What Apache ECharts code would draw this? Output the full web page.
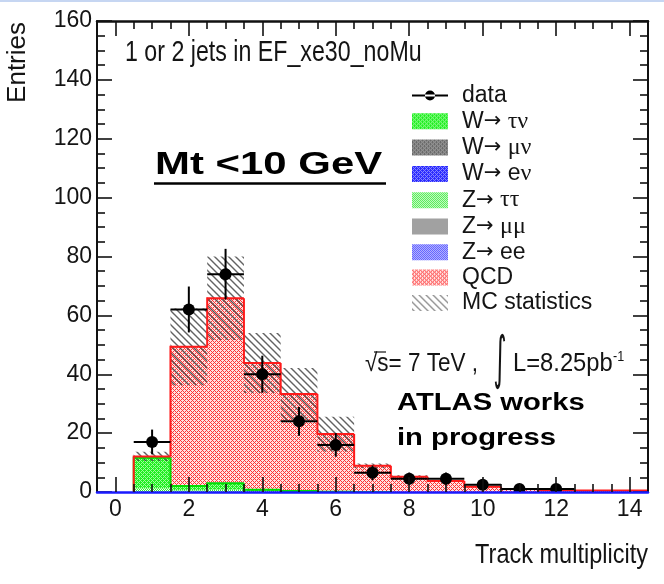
<!DOCTYPE html>
<html><head><meta charset="utf-8">
<script src="https://cdn.jsdelivr.net/npm/echarts@6/dist/echarts.min.js"></script>
<style>html,body{margin:0;padding:0;background:#fff}#c{width:664px;height:584px}</style>
</head><body><div id="c"></div>
<script>
// ---------- data (bin centres = track multiplicity) ----------
const bins     = [1, 2, 3, 4, 5, 6, 7, 8, 9, 10, 11, 12, 13, 14];
const zTauTau  = [1.3, 0.6, 0.8, 0.3, 0.1, 0, 0, 0, 0, 0, 0, 0, 0, 0];
const wTauNu   = [10.3, 1.4, 2.2, 0.5, 0.2, 0.1, 0, 0, 0, 0, 0, 0, 0, 0];
const wMuNu    = [0, 0.1, 0.1, 0, 0, 0, 0, 0, 0, 0, 0, 0, 0, 0];
const wENu     = [0, 0.1, 0.1, 0, 0, 0, 0, 0, 0, 0, 0, 0, 0, 0];
const zMuMu    = [0, 0, 0, 0, 0, 0, 0, 0, 0, 0, 0, 0, 0, 0];
const zEE      = [0, 0, 0, 0, 0, 0, 0, 0, 0, 0, 0, 0, 0, 0];
const qcd      = [0.5, 47.1, 62.6, 43.0, 33.0, 19.6, 8.9, 5.2, 3.7, 1.8, 1.0, 0.6, 0.5, 0.5];
const mcStatErr= [1.6, 13.0, 14.2, 10.2, 8.8, 5.9, 0.8, 0.5, 0.3, 0.2, 0.1, 0.1, 0.1, 0.1];
const dataX    = [1, 2, 3, 4, 5, 6, 7, 8, 9, 10, 11, 12];
const dataY    = [17, 62, 74, 40, 24, 16, 6.5, 4.5, 4.5, 2.5, 1, 1];
const dataErr  = [4.2, 7.8, 8.6, 6.3, 4.9, 4.0, 2.5, 2.1, 2.1, 1.6, 1.0, 1.0];
const xMajorTicks = [0, 2, 4, 6, 8, 10, 12, 14];
const xMinorTicks = [0.5, 1, 1.5, 2.5, 3, 3.5, 4.5, 5, 5.5, 6.5, 7, 7.5, 8.5, 9, 9.5, 10.5, 11, 11.5, 12.5, 13, 13.5];
const legendNames = ['data', 'W→ τν', 'W→ μν', 'W→ eν', 'Z→ ττ', 'Z→ μμ', 'Z→ ee', 'QCD', 'MC statistics'];

// ---------- fill patterns ----------
function pixPattern(size, bg, fg, test) {
  const c = document.createElement('canvas'); c.width = size; c.height = size;
  const g = c.getContext('2d');
  g.fillStyle = bg; g.fillRect(0, 0, size, size);
  g.fillStyle = fg;
  for (let y = 0; y < size; y++) for (let x = 0; x < size; x++) if (test(x, y)) g.fillRect(x, y, 1, 1);
  return { image: c, repeat: 'repeat' };
}
function hatchPattern(s, col, w) {
  const c = document.createElement('canvas'); c.width = s; c.height = s;
  const g = c.getContext('2d');
  g.strokeStyle = col; g.lineWidth = w;
  g.beginPath();
  g.moveTo(-2, -2); g.lineTo(s + 2, s + 2);
  g.moveTo(s - 2, -2); g.lineTo(s + 2, 2);
  g.moveTo(-2, s - 2); g.lineTo(2, s + 2);
  g.stroke();
  return { image: c, repeat: 'repeat' };
}
const cross = (x, y) => ((x + y) % 4 === 0) || ((x - y + 4) % 4 === 0);
const check = (x, y) => (x + y) % 2 === 0;
const pZtt = pixPattern(4, '#f0fff0', '#2ee82e', check);
const pWtn = pixPattern(4, '#22ee22', '#9cff9c', cross);
const pWmn = pixPattern(4, '#6a6a6a', '#a8a8a8', cross);
const pWen = pixPattern(4, '#2a2aff', '#8a8aff', cross);
const pZmm = pixPattern(4, '#f2f2f2', '#505050', check);
const pZee = pixPattern(4, '#eeeeff', '#2a2aff', check);
const pQcd = pixPattern(4, '#ffe2e2', '#ff3434', cross);
const pMC  = hatchPattern(7, 'rgba(70,70,70,0.85)', 1.4);

// ---------- stacking ----------
const stack = [
  { name: 'Z→ ττ', vals: zTauTau, fill: pZtt },
  { name: 'W→ τν', vals: wTauNu, fill: pWtn, line: '#00dd00' },
  { name: 'W→ μν', vals: wMuNu, fill: pWmn },
  { name: 'W→ eν', vals: wENu, fill: pWen },
  { name: 'Z→ μμ', vals: zMuMu, fill: pZmm },
  { name: 'Z→ ee', vals: zEE, fill: pZee },
  { name: 'QCD', vals: qcd, fill: pQcd, line: '#ff1a1a' }
];
let base = bins.map(() => 0);
stack.forEach(l => {
  l.data = bins.map((b, i) => [b, base[i], base[i] + l.vals[i]]);
  base = base.map((v, i) => v + l.vals[i]);
  l.top = base.slice();
});
const total = base;

function rectItem(fill) {
  return function (p, api) {
    const x = api.value(0), lo = api.value(1), hi = api.value(2);
    if (!(hi > lo)) return null;
    const a = api.coord([x - 0.5, hi]), b = api.coord([x + 0.5, lo]);
    return { type: 'rect', shape: { x: a[0], y: a[1], width: b[0] - a[0], height: b[1] - a[1] }, style: { fill: fill } };
  };
}
function stepItem(color) {
  return function (p, api) {
    const x = api.value(0), hi = api.value(1), prev = api.value(2);
    if (!(hi > 0) && !(prev > 0)) return null;
    const p0 = api.coord([x - 0.5, prev]), p1 = api.coord([x - 0.5, hi]), p2 = api.coord([x + 0.5, hi]);
    return { type: 'polyline', shape: { points: [p0, p1, p2] }, style: { stroke: color, lineWidth: 2, fill: null } };
  };
}

const series = [];
stack.forEach(l => {
  series.push({ type: 'custom', name: l.name, xAxisIndex: 0, yAxisIndex: 0, clip: true, z: 2,
    itemStyle: { color: l.fill }, data: l.data, renderItem: rectItem(l.fill) });
});
series.push({ type: 'custom', name: 'MC statistics', xAxisIndex: 0, yAxisIndex: 0, clip: true, z: 3,
  itemStyle: { color: hatchPattern(7, 'rgba(120,120,120,0.8)', 1.4) },
  data: bins.map((b, i) => [b, total[i] - mcStatErr[i], total[i] + mcStatErr[i]]), renderItem: rectItem(pMC) });
stack.filter(l => l.line).forEach(l => {
  series.push({ type: 'custom', name: l.name + ' outline', xAxisIndex: 0, yAxisIndex: 0, clip: true, z: 4,
    itemStyle: { color: l.line },
    data: bins.map((b, i) => [b, l.top[i], i > 0 ? l.top[i - 1] : 0]), renderItem: stepItem(l.line) });
});
series.push({ type: 'custom', name: 'data', xAxisIndex: 0, yAxisIndex: 0, clip: true, z: 6,
  itemStyle: { color: '#000' },
  data: dataX.map((x, i) => [x, dataY[i], dataErr[i]]),
  renderItem: function (p, api) {
    const x = api.value(0), y = api.value(1), e = api.value(2);
    const c = api.coord([x, y]), l = api.coord([x - 0.5, y]), r = api.coord([x + 0.5, y]);
    const t = api.coord([x, y + e]), b = api.coord([x, Math.max(0, y - e)]);
    return { type: 'group', children: [
      { type: 'line', shape: { x1: l[0], y1: c[1], x2: r[0], y2: c[1] }, style: { stroke: '#000', lineWidth: 2 } },
      { type: 'line', shape: { x1: c[0], y1: t[1], x2: c[0], y2: b[1] }, style: { stroke: '#000', lineWidth: 2 } },
      { type: 'circle', shape: { cx: c[0], cy: c[1], r: 6 }, style: { fill: '#000' } }
    ] };
  } });

const SANS = "'Liberation Sans', Arial, sans-serif";
const TXT = '#141414';

function xAx(pos, vals, len, showLine, showLabel, lineColor, z) {
  return { type: 'value', min: -0.5, max: 14.5, position: pos, gridIndex: 0, z: z,
    axisLine: { show: showLine, onZero: false, lineStyle: { color: lineColor, width: 2.5 } },
    axisTick: { show: true, inside: true, length: len, customValues: vals, lineStyle: { color: '#111', width: 1.6 } },
    axisLabel: { show: showLabel, customValues: xMajorTicks, fontFamily: SANS, fontSize: 23, color: TXT, margin: 6 },
    splitLine: { show: false }, minorTick: { show: false } };
}
function yAx(pos, showLabel) {
  return { type: 'value', min: 0, max: 160, interval: 20, position: pos, gridIndex: 0, z: 5,
    axisLine: { show: true, onZero: false, lineStyle: { color: '#111', width: 2 } },
    axisTick: { show: true, inside: true, length: 15, lineStyle: { color: '#111', width: 1.6 } },
    minorTick: { show: true, splitNumber: 4, length: 8, lineStyle: { color: '#111', width: 1.6 } },
    axisLabel: { show: showLabel, fontFamily: SANS, fontSize: 23, color: TXT, margin: 5 },
    splitLine: { show: false } };
}

const dataIcon = 'path://M18,0L18.01,0ZM18,16L18.01,16ZM0,7L36,7L36,9L0,9ZM13,8A5,5,0,1,0,23,8A5,5,0,1,0,13,8Z';

const option = {
  animation: false,
  backgroundColor: '#ffffff',
  grid: { left: 97, right: 16, top: 21, bottom: 92 },
  xAxis: [
    xAx('bottom', xMajorTicks, 15, true, true, '#1a1aff', 8),
    xAx('bottom', xMinorTicks, 8, false, false, '#1a1aff', 8),
    xAx('top', xMajorTicks, 15, true, false, '#111', 5),
    xAx('top', xMinorTicks, 8, false, false, '#111', 5)
  ],
  yAxis: [yAx('left', true), yAx('right', false)],
  legend: {
    orient: 'vertical', left: 407, top: 79, itemWidth: 36, itemHeight: 16, itemGap: 2.3,
    icon: 'rect', selectedMode: false,
    formatter: n => n.replace('→', '{a|→}').replace(/([τνμ]+)/g, '{g|$1}'),
    textStyle: { fontFamily: SANS, fontSize: 23, color: TXT, padding: [0, 0, 0, 9],
      rich: {
        g: { fontFamily: "'Liberation Serif', serif", fontSize: 24, color: TXT },
        a: { fontFamily: "'DejaVu Sans', sans-serif", fontSize: 21, color: TXT }
      } },
    data: legendNames.map(n => n === 'data' ? { name: n, icon: dataIcon } : { name: n })
  },
  graphic: [
    { type: 'rect', left: 0, top: 0, shape: { width: 664, height: 2 }, style: { fill: '#c6d6f2' }, silent: true },
    { type: 'text', x: 17.5, y: 22, rotation: Math.PI / 2, silent: true,
      style: { text: 'Entries', fontFamily: SANS, fontSize: 26, fill: TXT, align: 'right', verticalAlign: 'middle' } },
    { type: 'text', x: 648, y: 555, scaleX: 0.84, silent: true,
      style: { text: 'Track multiplicity', fontFamily: SANS, fontSize: 28, fill: TXT, align: 'right', verticalAlign: 'middle' } },
    { type: 'text', x: 125, y: 53, scaleX: 0.8, silent: true,
      style: { text: '1 or 2 jets in EF_xe30_noMu', fontFamily: SANS, fontSize: 29, fill: TXT, align: 'left', verticalAlign: 'middle' } },
    { type: 'text', x: 155, y: 165.5, scaleX: 1.31, silent: true,
      style: { text: 'Mt <10 GeV', fontFamily: SANS, fontWeight: 'bold', fontSize: 32, fill: '#000', align: 'left', verticalAlign: 'middle' } },
    { type: 'line', silent: true, shape: { x1: 154, y1: 183.5, x2: 386, y2: 183.5 }, style: { stroke: '#000', lineWidth: 2.5 } },
    { type: 'text', x: 397, y: 403.5, scaleX: 1.27, silent: true,
      style: { text: 'ATLAS works', fontFamily: SANS, fontWeight: 'bold', fontSize: 23, fill: '#000', align: 'left', verticalAlign: 'middle' } },
    { type: 'text', x: 397, y: 438.5, scaleX: 1.27, silent: true,
      style: { text: 'in progress', fontFamily: SANS, fontWeight: 'bold', fontSize: 23, fill: '#000', align: 'left', verticalAlign: 'middle' } },
    { type: 'text', x: 365, y: 364, scaleX: 0.9, silent: true,
      style: { text: '√s= 7 TeV ,', fontFamily: SANS, fontSize: 25, fill: TXT, align: 'left', verticalAlign: 'middle' } },
    { type: 'line', silent: true, shape: { x1: 374, y1: 352, x2: 386, y2: 352 }, style: { stroke: TXT, lineWidth: 1.2 } },
    { type: 'text', x: 500, y: 362, scaleX: 0.7, scaleY: 1.6, silent: true,
      style: { text: '∫', fontFamily: "'DejaVu Sans', sans-serif", fontSize: 36, fill: TXT, align: 'center', verticalAlign: 'middle' } },
    { type: 'text', x: 513, y: 364, scaleX: 0.95, silent: true,
      style: { text: 'L=8.25pb', fontFamily: SANS, fontSize: 25, fill: TXT, align: 'left', verticalAlign: 'middle' } },
    { type: 'text', x: 613, y: 357, scaleX: 0.9, silent: true,
      style: { text: '-1', fontFamily: SANS, fontSize: 14, fill: TXT, align: 'left', verticalAlign: 'middle' } }
  ],
  series: series
};
const chart = echarts.init(document.getElementById('c'), null, { renderer: 'canvas' });
chart.setOption(option);
</script>
</body></html>
